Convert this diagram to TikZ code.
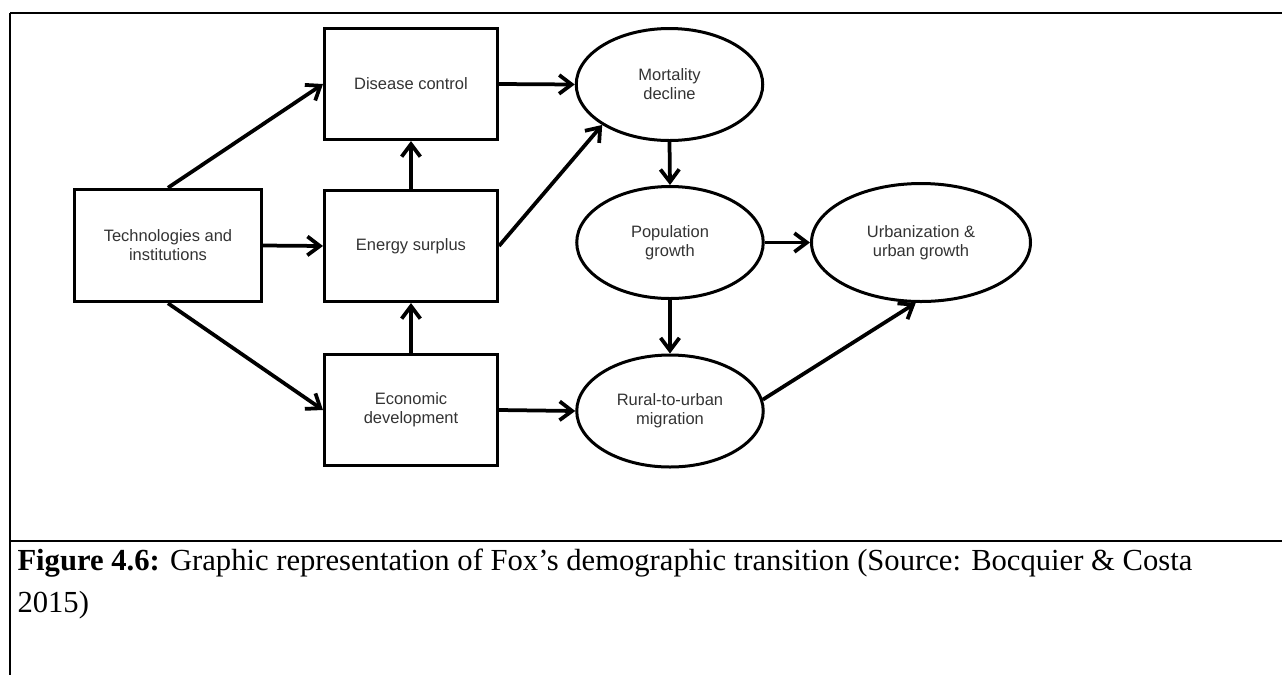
\documentclass[tikz,border=0pt]{standalone}
\usepackage{fontspec}
\setmainfont{Liberation Serif}
\newfontfamily\arialfam{Liberation Sans}
\usepackage{tikz}
\usetikzlibrary{shapes.geometric, arrows.meta, positioning}

\begin{document}
\begin{tikzpicture}[x=0.4pt,y=-0.4pt]
		\tikzstyle{caja} = [draw, line width=1.2pt, inner sep=0pt, minimum height=44.4pt, align=center, text=black!80, font=\arialfam\fontsize{6.6}{7.6}\selectfont]
		\tikzstyle{elipse} = [draw, ellipse, line width=1.2pt, inner sep=0pt, minimum width=74.6pt, minimum height=44.8pt, align=center, text=black!80, font=\arialfam\fontsize{6.6}{7.6}\selectfont]
		\tikzstyle{line} = [draw, line width=1.5pt, -{Straight Barb[length=5pt,width=7.5pt]}]
		\useasboundingbox (0,0) rectangle (1282,675);
		
		% Marco de la figura
		\draw[line width=0.6pt] (10,13) -- (1051,13);
		\draw[line width=1.1pt] (1051,13) -- (1282,13);
		\draw[line width=1.1pt] (10,13) -- (24,13);
		\draw[line width=0.8pt] (10,13) -- (10,675);
		\draw[line width=0.8pt] (10,541) -- (1282,541);
		
		% Cajas
		\node[caja, minimum width=74.8pt, minimum height=45pt] (tech) at (168,245.5) {Technologies and\\institutions};
		\node[caja, minimum width=69.2pt] (disease) at (411,84) {Disease control};
		\node[caja, minimum width=69.2pt] (energy) at (411,246) {Energy surplus};
		\node[caja, minimum width=69.2pt] (econ) at (411,410) {Economic\\development};
		
		% Elipses
		\node[elipse] (mortality) at (669.5,84.5) {Mortality\\decline};
		\node[elipse] (population) at (670,242.5) {Population\\growth};
		\node[elipse] (rural) at (670,411) {Rural-to-urban\\migration};
		\node[elipse, minimum width=87.6pt, minimum height=47.2pt] (urban) at (921,242.5) {Urbanization \&\\urban growth};
		
		% Flechas
			\path [line] (tech.north) -- (disease.west);
			\path [line] (tech.east) -- (energy.west);
			\path [line] (tech.south) -- (econ.west);
			\path [line] (energy.north) -- (disease.south);
			\path [line] (econ.north) -- (energy.south);
			\path [line] (disease.east) -- (mortality.west);
			\path [line] (energy.east) -- (mortality.211);
			\path [line] (mortality.south) -- (population.north);
			\path [line] (population.east) -- (urban.west);
			\path [line] (population.south) -- (rural.north);
			\path [line] (econ.east) -- (rural.west);
			\path [line] (rural.7) -- (urban.265);
		
		% Pie de figura
		\node[anchor=base west, inner sep=0pt, font=\fontsize{12.25}{14}\selectfont] (cap1) at (17,570) {\textbf{Figure 4.6:} Graphic representation of Fox’s demographic transition (Source: Bocquier \& Costa};
		\node[anchor=base west, inner sep=0pt, font=\fontsize{12.25}{14}\selectfont] (cap2) at (17,612) {2015)};
	\end{tikzpicture}
\end{document}
